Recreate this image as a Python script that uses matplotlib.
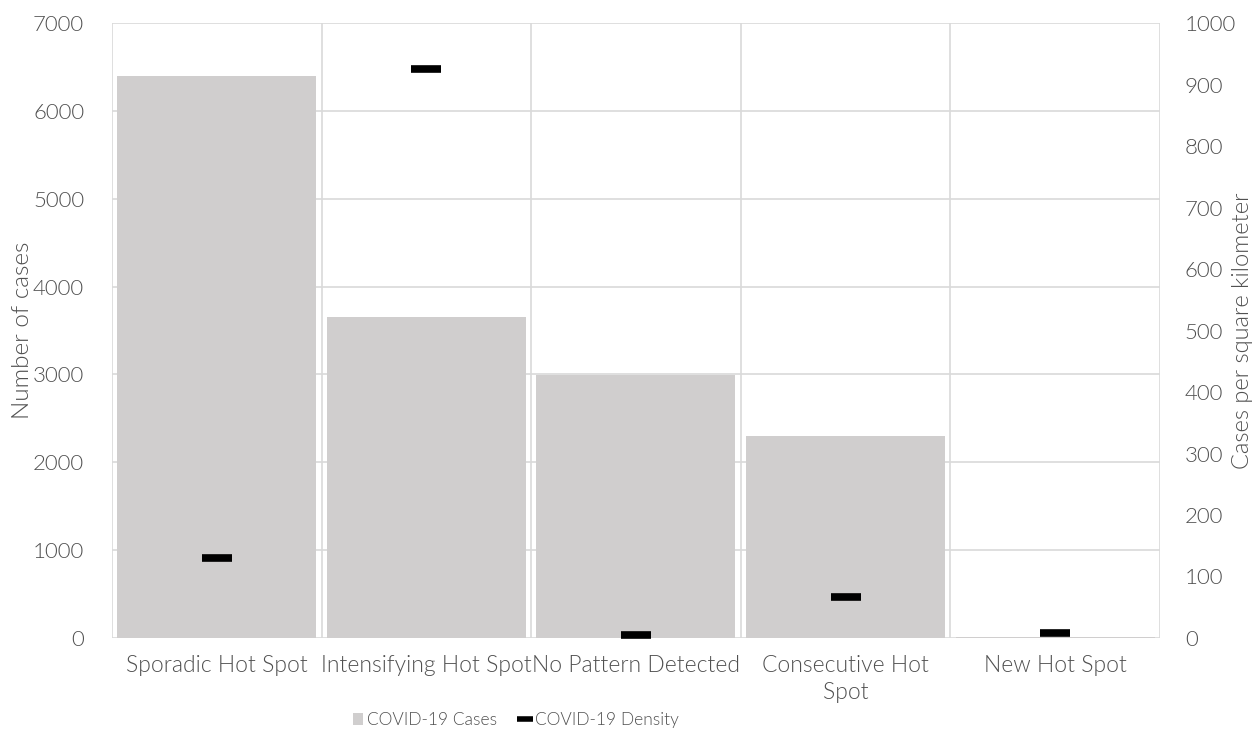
import matplotlib
matplotlib.use("Agg")
import matplotlib.pyplot as plt
from matplotlib.lines import Line2D
from matplotlib.patches import Patch

categories = ["Sporadic Hot Spot", "Intensifying Hot Spot", "No Pattern Detected",
              "Consecutive Hot\nSpot", "New Hot Spot"]
cases = [6400, 3650, 2990, 2300, 15]
density = [130, 926, 5, 67, 8]
left_ticks = [0, 1000, 2000, 3000, 4000, 5000, 6000, 7000]
right_ticks = [0, 100, 200, 300, 400, 500, 600, 700, 800, 900, 1000]

plt.rcParams['font.family'] = ['Lato', 'DejaVu Sans']
plt.rcParams['font.weight'] = 300
plt.rcParams['axes.labelweight'] = 300
txt = '#505050'
grid = '#d9d9d9'
bar_col = '#d0cece'

fig = plt.figure(figsize=(12.58, 7.47), dpi=100)
ax = fig.add_axes([0.089, 0.146, 0.833, 0.823])
ax2 = ax.twinx()

x = list(range(len(categories)))
ax.bar(x, cases, width=0.95, color=bar_col, zorder=2)
ax.set_ylim(0, 7000)
ax.set_xlim(-0.5, len(categories) - 0.5)
ax.set_yticks(left_ticks)
ax.set_yticklabels([str(t) for t in left_ticks])
for t in left_ticks:
    ax.axhline(t, color=grid, lw=1.2, zorder=1)
for b in [i - 0.5 for i in range(len(categories) + 1)]:
    ax.axvline(b, color=grid, lw=1.2, zorder=1)
ax.set_xticks(x)
ax.set_xticklabels(categories, linespacing=1.4)

ax2.plot(x, density, linestyle='none', marker='_', markersize=22,
         markeredgewidth=5.5, color='black', zorder=3)
ax2.set_ylim(0, 1000)
ax2.set_yticks(right_ticks)
ax2.set_yticklabels([str(t) for t in right_ticks])

for a in (ax, ax2):
    for s in a.spines.values():
        s.set_visible(False)
    a.tick_params(length=0, colors=txt, labelsize=16)
ax.tick_params(axis='x', labelsize=16.5, pad=12)
ax.tick_params(axis='y', pad=20)
ax2.tick_params(axis='y', pad=18)

ax.set_ylabel("Number of cases", color=txt, fontsize=17.5)
ax.yaxis.set_label_coords(-0.075, 0.5)
ax2.set_ylabel("Cases per square kilometer", color=txt, fontsize=17)
ax2.yaxis.set_label_coords(1.069, 0.5)

handles = [Patch(facecolor=bar_col, edgecolor='none', label='COVID-19 Cases'),
           Line2D([], [], color='black', marker='_', linestyle='none',
                  markersize=11, markeredgewidth=4, label='COVID-19 Density')]
leg = fig.legend(handles=handles, loc='center', bbox_to_anchor=(0.41, 0.036),
                 ncol=2, frameon=False, fontsize=12.5, handlelength=0.6,
                 handleheight=0.6, handletextpad=0.25, columnspacing=1.3)
for t in leg.get_texts():
    t.set_color(txt)

fig.savefig("out.png", dpi=100)
